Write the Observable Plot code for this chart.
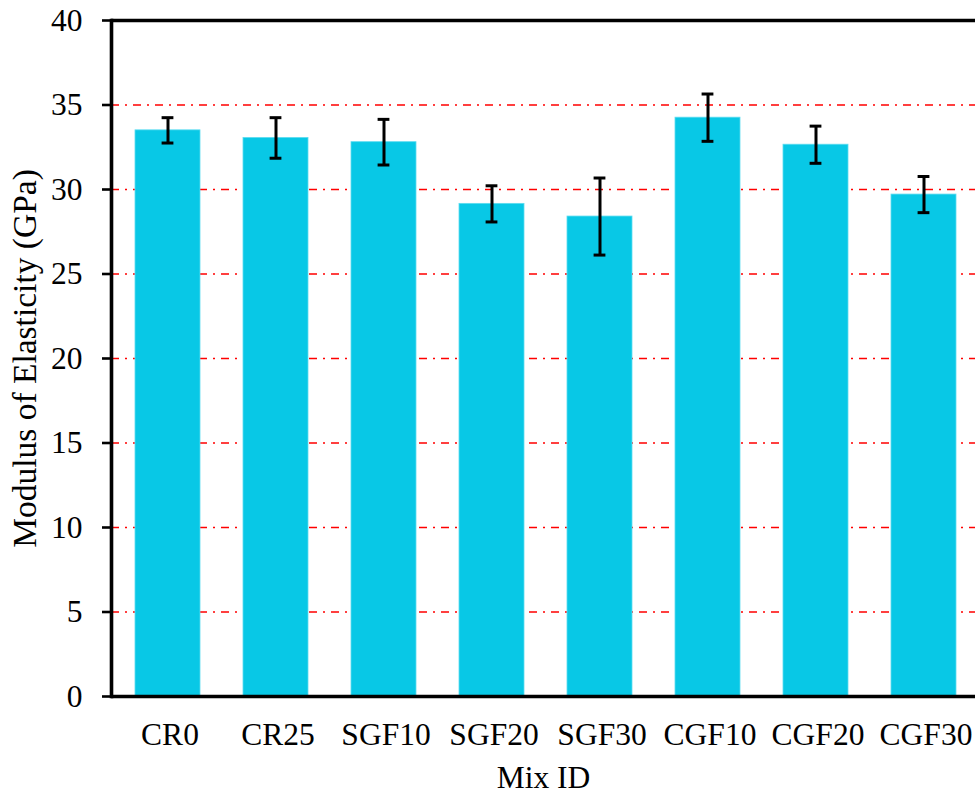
<!DOCTYPE html>
<html>
<head>
<meta charset="utf-8">
<script src="https://cdn.jsdelivr.net/npm/d3@7"></script>
<script src="https://cdn.jsdelivr.net/npm/@observablehq/plot@0.6"></script>
<style>
  html, body { margin: 0; padding: 0; background: white; overflow: hidden; }
</style>
</head>
<body>
<div id="chart"></div>
<script>
const mixIds = ["CR0", "CR25", "SGF10", "SGF20", "SGF30", "CGF10", "CGF20", "CGF30"];
const modulus = [33.5, 33.05, 32.8, 29.15, 28.4, 34.25, 32.65, 29.7];
const errors = [0.75, 1.2, 1.35, 1.07, 2.28, 1.4, 1.1, 1.07];
const yTicks = [0, 5, 10, 15, 20, 25, 30, 35, 40];
const gridValues = [5, 10, 15, 20, 25, 30, 35];

const data = mixIds.map((id, i) => ({
  id,
  value: modulus[i],
  lo: modulus[i] - errors[i],
  hi: modulus[i] + errors[i]
}));

const chart = Plot.plot({
  width: 975,
  height: 792,
  marginLeft: 111,
  marginRight: 0,
  marginTop: 20,
  marginBottom: 96,
  style: {
    fontFamily: "'Liberation Serif', 'Times New Roman', serif",
    fontSize: "31.5px",
    background: "white",
    color: "black",
    overflow: "visible"
  },
  x: { domain: mixIds, range: [111, 980], paddingInner: 0.4, paddingOuter: 0.2 },
  y: { domain: [0, 40] },
  marks: [
    Plot.ruleY(gridValues, { stroke: "#ff0000", strokeWidth: 1.7, strokeDasharray: "8,6,2,6" }),
    Plot.barY(data, { x: "id", y: "value", fill: "#08c8e6", stroke: "#5ddcf0", strokeWidth: 0.8 }),
    Plot.ruleX(data, { x: "id", y1: "lo", y2: "hi", stroke: "black", strokeWidth: 3 }),
    Plot.tickY(data, { x: "id", y: "lo", stroke: "black", strokeWidth: 3, inset: 26.6 }),
    Plot.tickY(data, { x: "id", y: "hi", stroke: "black", strokeWidth: 3, inset: 26.6 }),
    Plot.ruleY([0, 40], { stroke: "black", strokeWidth: 3.6 }),
    Plot.frame({ anchor: "left", stroke: "black", strokeWidth: 3.6 }),
    Plot.axisY({
      ticks: yTicks,
      tickSize: 9,
      tickPadding: 20,
      strokeWidth: 2.6,
      fontSize: 31.5,
      label: null
    }),
    Plot.axisY({
      ticks: [],
      tickSize: 0,
      fontSize: 33.5,
      label: "Modulus of Elasticity (GPa)",
      labelAnchor: "center",
      labelArrow: "none",
      labelOffset: 99
    }),
    Plot.axisX({
      tickSize: 0,
      tickPadding: 26,
      fontSize: 31.5,
      label: "Mix ID",
      labelAnchor: "center",
      labelArrow: "none",
      labelOffset: 91,
      dx: 2
    })
  ]
});

document.getElementById("chart").appendChild(chart);
</script>
</body>
</html>
